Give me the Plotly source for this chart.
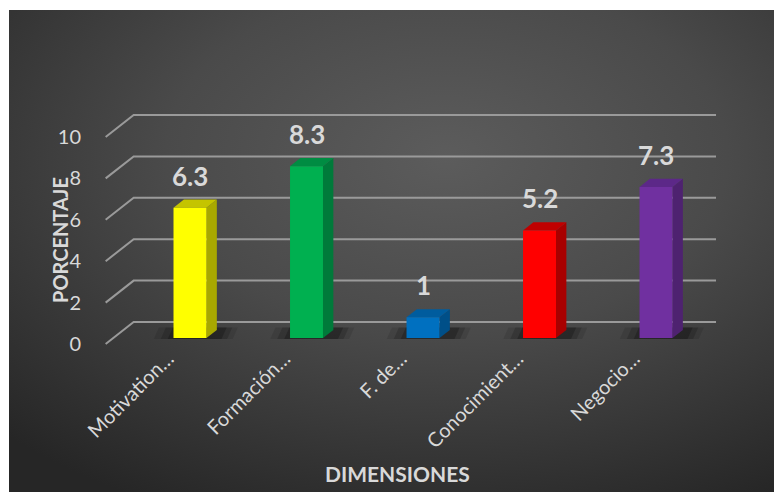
import base64
import plotly.graph_objects as go

# ---------------- data ----------------
categories = ["Motivation…", "Formación…", "F. de…", "Conocimient…", "Negocio…"]
values = [6.3, 8.3, 1, 5.2, 7.3]
value_labels = ["6.3", "8.3", "1", "5.2", "7.3"]
y_ticks = [0, 2, 4, 6, 8, 10]
y_tick_labels = ["0", "2", "4", "6", "8", "10"]
x_title = "DIMENSIONES"
y_title = "PORCENTAJE"

# ---------------- style ----------------
front_colors = ["#FFFF00", "#00B050", "#0070C0", "#FF0000", "#7030A0"]
side_colors = ["#A8A800", "#007A3A", "#004F88", "#A80000", "#4E2270"]
top_colors = ["#C4C400", "#008C42", "#005C9E", "#C00000", "#5C2888"]
TEXT = "#D9D9D9"
GRID = "#9A9A9A"
FONT = "Lato"

# 3D projection (data units)
DX_FULL, DY_FULL = 0.2403, 1.063   # full floor depth vector
F0, F1 = 0.27, 0.64                # bar front / back depth fraction
BAR_W = 0.283
GRID_X0, GRID_X1 = -0.724, 4.515

W, H = 782, 492
ML, MR, MT, MB = 92, 60, 92, 140
XR = [-0.7725, 4.635]
YR = [-0.773, 11.787]

fig = go.Figure()

# background gridlines (back wall + left floor diagonals)
gx, gy = [], []
for v in y_ticks:
    gx += [GRID_X0, GRID_X0 + DX_FULL, GRID_X1, None]
    gy += [v, v + DY_FULL, v + DY_FULL, None]
fig.add_trace(go.Scatter(x=gx, y=gy, mode="lines", line=dict(color=GRID, width=2),
                         hoverinfo="skip", showlegend=False, cliponaxis=False))

b = F0 * DY_FULL
ddx = (F1 - F0) * DX_FULL
ddy = (F1 - F0) * DY_FULL

# bars
for i, v in enumerate(values):
    xl, xr = i - BAR_W / 2, i + BAR_W / 2
    # soft shadow on the floor
    for ext, op in [(0.17, 0.10), (0.11, 0.16), (0.05, 0.22)]:
        fig.add_trace(go.Scatter(
            x=[xl - ext, xr + ddx + ext * 0.8, xr + ddx + ext * 0.8 + ddx * 0.5, xl - ext + ddx * 0.5, xl - ext],
            y=[b - 0.05, b - 0.05, b + ddy * 1.3, b + ddy * 1.3, b - 0.05],
            fill="toself", fillcolor=f"rgba(0,0,0,{op})", line=dict(width=0),
            mode="lines", hoverinfo="skip", showlegend=False))
    # side face
    fig.add_trace(go.Scatter(
        x=[xr, xr + ddx, xr + ddx, xr, xr],
        y=[b, b + ddy, b + v + ddy, b + v, b],
        fill="toself", fillcolor=side_colors[i], line=dict(width=0),
        mode="lines", hoverinfo="skip", showlegend=False))
    # top face
    fig.add_trace(go.Scatter(
        x=[xl, xr, xr + ddx, xl + ddx, xl],
        y=[b + v, b + v, b + v + ddy, b + v + ddy, b + v],
        fill="toself", fillcolor=top_colors[i], line=dict(width=0),
        mode="lines", hoverinfo="skip", showlegend=False))
    # front face
    fig.add_trace(go.Scatter(
        x=[xl, xr, xr, xl, xl],
        y=[b, b, b + v, b + v, b],
        fill="toself", fillcolor=front_colors[i], line=dict(width=0),
        mode="lines", name=categories[i], showlegend=False))
    fig.add_annotation(x=i, y=b + v + ddy, text=value_labels[i], showarrow=False,
                       xanchor="center", yanchor="bottom", yshift=6,
                       font=dict(family=FONT, size=26, color=TEXT, weight="bold"))

# radial gradient background
svg = ('<svg xmlns="http://www.w3.org/2000/svg" width="781" height="490" viewBox="0 0 781 490" preserveAspectRatio="none">'
       '<defs><radialGradient id="g" cx="0.56" cy="0.3" r="0.8" gradientUnits="objectBoundingBox">'
       '<stop offset="0" stop-color="#5C5C5C"/><stop offset="0.45" stop-color="#4A4A4A"/>'
       '<stop offset="1" stop-color="#262626"/></radialGradient></defs>'
       '<rect width="781" height="490" fill="url(#g)"/></svg>')
src = "data:image/svg+xml;base64," + base64.b64encode(svg.encode()).decode()
pw, ph = W - ML - MR, H - MT - MB
fig.add_layout_image(dict(source=src, xref="paper", yref="paper",
                          x=(1 - ML) / pw, y=(H - MB - 2) / ph,
                          sizex=(W - 1) / pw, sizey=(H - 2) / ph,
                          xanchor="left", yanchor="top", sizing="stretch", layer="below"))

# axis titles
fig.add_annotation(text=y_title, xref="paper", yref="paper",
                   x=(52 - ML) / pw, y=(H - MB - 232) / ph, textangle=-90, showarrow=False,
                   xanchor="center", yanchor="middle",
                   font=dict(family=FONT, size=20, color=TEXT, weight="bold"))
fig.add_annotation(text=x_title, xref="paper", yref="paper",
                   x=(389 - ML) / pw, y=(H - MB - 465) / ph, showarrow=False,
                   xanchor="center", yanchor="middle",
                   font=dict(family=FONT, size=21, color=TEXT, weight="bold"))

fig.update_layout(
    width=W, height=H, margin=dict(l=ML, r=MR, t=MT, b=MB),
    paper_bgcolor="white", plot_bgcolor="rgba(0,0,0,0)",
    xaxis=dict(range=XR, tickvals=list(range(len(categories))), ticktext=categories,
               tickangle=-45, showgrid=False, zeroline=False, showline=False, ticks="",
               ticklabelshift=-22, ticklabelstandoff=-18,
               tickfont=dict(family=FONT, size=20, color=TEXT), fixedrange=True),
    yaxis=dict(range=YR, tickvals=y_ticks, ticktext=y_tick_labels, showgrid=False,
               zeroline=False, showline=False, ticks="", ticklabelstandoff=18,
               tickfont=dict(family=FONT, size=20, color=TEXT), fixedrange=True),
    showlegend=False,
)

fig.write_html("out.html")
